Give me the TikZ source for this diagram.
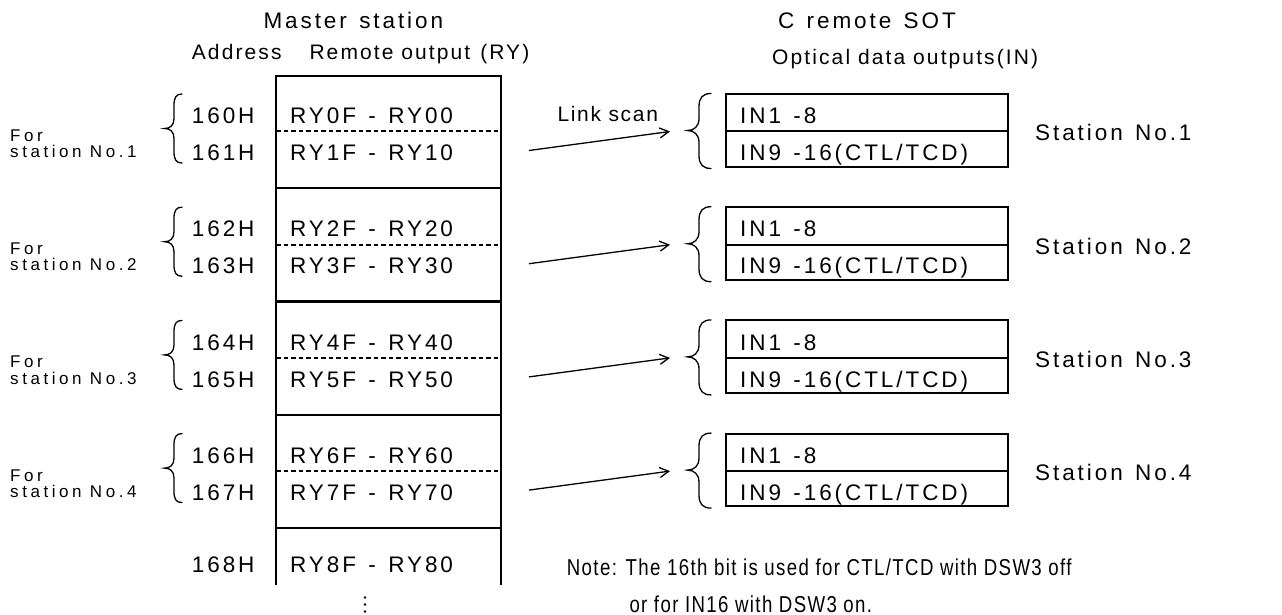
\documentclass[tikz,border=0pt]{standalone}
\usepackage{fontspec}
\setmainfont{Liberation Sans}
\newfontfamily\spacedfont[LetterSpace=13,WordSpace=1.35]{Liberation Sans}
\newfontfamily\midfont[LetterSpace=10]{Liberation Sans}
\newfontfamily\tightfont[LetterSpace=8]{Liberation Sans}
\newfontfamily\widefont[LetterSpace=21]{Liberation Sans}
\newfontfamily\narrowfont[FakeStretch=0.81,LetterSpace=6]{Liberation Sans}
\usetikzlibrary{arrows.meta}

\tikzset{
  lbl/.style={anchor=base west, inner sep=0pt, font=\spacedfont\fontsize{22.5}{26}\selectfont},
  lblE/.style={lbl, anchor=base east},
  sublbl/.style={anchor=base west, inner sep=0pt, font=\midfont\fontsize{21}{25}\selectfont},
  sublblE/.style={sublbl, anchor=base east},
  scanlbl/.style={anchor=base west, inner sep=0pt, font=\tightfont\fontsize{21}{25}\selectfont},
  small/.style={anchor=base west, inner sep=0pt, font=\widefont\fontsize{17}{20}\selectfont},
  note/.style={anchor=base west, inner sep=0pt, font=\narrowfont\fontsize{23}{27}\selectfont},
  frame/.style={line width=2.2pt},
  cell/.style={line width=2pt},
  divider/.style={line width=2pt, dash pattern=on 4.5pt off 3pt},
  scan/.style={line width=1.3pt, -{Straight Barb[length=9pt,width=10pt]}},
  brace/.style={line width=1.3pt, line cap=round},
}

\begin{document}
\begin{tikzpicture}[x=1pt,y=-1pt]
\useasboundingbox (0,0) rectangle (1282,615);

% column headings
\node[lbl] (master) at (263.3,29) {Master station};
\node[sublbl] (addrhead) at (191.7,60) {Address};
\node[sublbl] (ryhead) at (309.3,60) {Remote output\hspace{2pt} (RY)};
\node[lblE] (remote) at (956,28.5) {C remote SOT};
\node[sublblE] (inhead) at (1038.3,65) {Optical data outputs(IN)};

% master station register table
\draw[frame] (276,584.5) -- (276,76) -- (501,76) -- (501,584.5);

\foreach \k in {0,...,3}{
  \pgfmathsetmacro\D{131.5+113.2*\k}
  \pgfmathtruncatemacro\ia{2*\k}
  \pgfmathtruncatemacro\ib{2*\k+1}
  \pgfmathtruncatemacro\stn{\k+1}
  % register words of one station
  \draw[divider] (276,\D) -- (501,\D);
  \draw[frame] (276,\D+56.7) -- (501,\D+56.7);
  \node[lbl] (adr\ia) at (191.7,\D-7.8) {16\ia H};
  \node[lbl] (adr\ib) at (191.7,\D+29.2) {16\ib H};
  \node[lbl] (ry\ia) at (290,\D-7.8) {RY\ia F - RY\ia 0};
  \node[lbl] (ry\ib) at (290,\D+29.2) {RY\ib F - RY\ib 0};
  % station label and brace on the left
  \node[small] (for\k) at (10,\D+9.9) {For};
  \node[small] (sta\k) at (10,\D+26.2) {station No.\stn};
  \draw[brace] (182,\D-37.5) .. controls (176,\D-37.5) and (174,\D-34) .. (174,\D-26)
     -- (174,\D-13) .. controls (174,\D-6) and (170,\D-3) .. (164.5,\D-3)
     .. controls (170,\D-3) and (174,\D) .. (174,\D+7)
     -- (174,\D+20) .. controls (174,\D+28) and (176,\D+31.5) .. (182,\D+31.5);
  % remote station input words
  \draw[cell] (726,\D-37.5) rectangle (1007.5,\D+35);
  \draw[cell] (726,\D) -- (1007.5,\D);
  \node[lbl] (inA\k) at (740,\D-7.8) {IN1 -8};
  \node[lbl] (inB\k) at (740,\D+29.2) {IN9 -16(CTL/TCD)};
  \draw[brace] (711,\D-38) .. controls (703,\D-38) and (699,\D-34) .. (699,\D-25)
     -- (699,\D-13) .. controls (699,\D-5) and (694,\D-1) .. (687.5,\D-1)
     .. controls (694,\D-1) and (699,\D+3) .. (699,\D+11)
     -- (699,\D+24) .. controls (699,\D+33) and (703,\D+37) .. (711,\D+37);
  \node[lbl] (st\k) at (1035,\D+9.5) {Station No.\stn};
  % link scan transfer
  \coordinate (src\k) at (529,\D+19);
  \coordinate (dst\k) at (670,\D);
  \draw[scan] (src\k) -- (dst\k);
}

\node[scanlbl] (link) at (557.3,121.5) {Link scan};

% next register word, table continues
\node[lbl] (adr8) at (191.7,572.7) {168H};
\node[lbl] (ry8) at (290,572.7) {RY8F - RY80};
\fill (365,597.5) circle (1.3pt) (365,604.5) circle (1.3pt) (365,611.5) circle (1.3pt);

% footnote
\node[note] (note1) at (566.7,575) {Note: The 16th bit is used for CTL/TCD with DSW3 off};
\node[note] (note2) at (629.3,612.7) {or for IN16 with DSW3 on.};
\end{tikzpicture}
\end{document}
